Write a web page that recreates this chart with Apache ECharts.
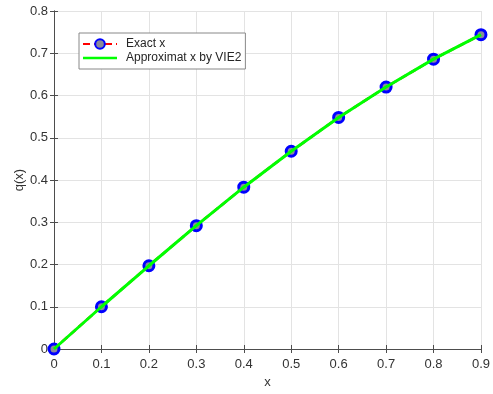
<!DOCTYPE html>
<html>
<head>
<meta charset="utf-8">
<script src="https://cdn.jsdelivr.net/npm/echarts@6/dist/echarts.min.js"></script>
<style>
  html, body { margin: 0; padding: 0; background: #fff; }
  #chart { width: 493px; height: 394px; }
</style>
</head>
<body>
<div id="chart"></div>
<script>
// x positions
var xs = [0, 0.1, 0.2, 0.3, 0.4, 0.5, 0.6, 0.7, 0.8, 0.9]
// exact solution
var exactVals = [0, 0.100, 0.197, 0.292, 0.383, 0.468, 0.548, 0.620, 0.686, 0.744]
// approximation by VIE2
var approxVals = [0, 0.100, 0.197, 0.292, 0.383, 0.468, 0.548, 0.620, 0.686, 0.744]
var seriesNames = ['Exact x', 'Approximat x by VIE2']

function pairs (ys) {
  return xs.map(function (x, i) { return [x, ys[i]] })
}

var font = 'Liberation Sans, Arial, sans-serif'
var textColor = '#333'
var axisLineColor = '#4d4d4d'

var chart = echarts.init(document.getElementById('chart'))
chart.setOption({
  animation: false,
  grid: { left: 54, right: 9, top: 11, bottom: 45 },
  legend: {
    left: 79,
    top: 33,
    orient: 'vertical',
    backgroundColor: '#fff',
    borderColor: '#888',
    borderWidth: 1,
    borderRadius: 0,
    padding: [5, 4, 5, 3],
    itemWidth: 34,
    itemHeight: 12,
    itemGap: 2,
    textStyle: { fontFamily: font, fontSize: 12, color: '#262626', padding: [0, 0, 0, 4] },
    data: [
      { name: seriesNames[0] },
      { name: seriesNames[1], icon: 'path://M0,0h40v3h-40z' }
    ]
  },
  xAxis: [{
    type: 'value',
    min: 0,
    max: 0.9,
    interval: 0.1,
    name: 'x',
    nameLocation: 'middle',
    nameGap: 27,
    nameTextStyle: { fontFamily: font, fontSize: 13, color: textColor },
    axisLine: { onZero: false, lineStyle: { color: axisLineColor } },
    axisTick: { inside: true, length: 4, lineStyle: { color: axisLineColor } },
    axisLabel: { fontFamily: font, fontSize: 13, color: textColor, margin: 9 },
    splitLine: { show: true, lineStyle: { color: '#e3e3e3' } }
  }, {
    type: 'value',
    position: 'top',
    min: 0,
    max: 0.9,
    interval: 0.1,
    axisLine: { show: true, lineStyle: { color: axisLineColor } },
    axisTick: { show: true, inside: true, length: 4, lineStyle: { color: axisLineColor } },
    axisLabel: { show: false },
    splitLine: { show: false }
  }],
  yAxis: [{
    type: 'value',
    min: 0,
    max: 0.8,
    interval: 0.1,
    name: 'q(x)',
    nameLocation: 'middle',
    nameGap: 28,
    nameMoveOverlap: false,
    nameTextStyle: { fontFamily: font, fontSize: 13, color: textColor },
    axisLine: { show: true, onZero: false, lineStyle: { color: axisLineColor } },
    axisTick: { show: true, inside: true, length: 4, lineStyle: { color: axisLineColor } },
    axisLabel: { fontFamily: font, fontSize: 13, color: textColor, margin: 6 },
    splitLine: { show: true, lineStyle: { color: '#e3e3e3' } }
  }, {
    type: 'value',
    position: 'right',
    min: 0,
    max: 0.8,
    interval: 0.1,
    axisLine: { show: true, lineStyle: { color: axisLineColor } },
    axisTick: { show: true, inside: true, length: 4, lineStyle: { color: axisLineColor } },
    axisLabel: { show: false },
    splitLine: { show: false }
  }],
  series: [
    {
      name: seriesNames[0],
      type: 'line',
      data: pairs(exactVals),
      symbol: 'circle',
      symbolSize: 10,
      itemStyle: { color: '#8a8a9a', borderColor: '#0000ff', borderWidth: 3 },
      lineStyle: { color: '#ff0000', width: 2.5, type: [7, 4] },
      z: 2
    },
    {
      name: seriesNames[1],
      type: 'line',
      data: pairs(approxVals),
      showSymbol: false,
      symbol: 'none',
      itemStyle: { color: '#00ff00' },
      lineStyle: { color: '#00ff00', width: 3 },
      zlevel: 1
    }
  ]
})
</script>
</body>
</html>
